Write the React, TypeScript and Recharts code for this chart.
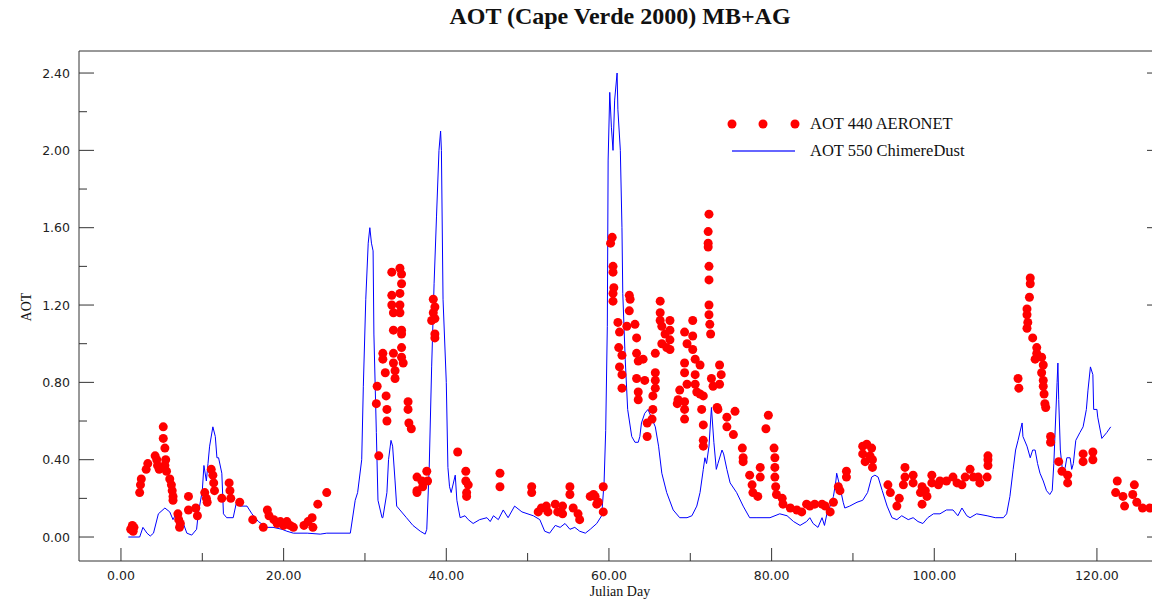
import React from 'react'
import { ComposedChart, Line, Scatter, XAxis, YAxis, Legend } from 'recharts'

// ChimereDust model AOT 550 (blue line)
const modelDay = [
  0.9, 2.3, 2.7, 3.2, 3.6, 4.0, 4.6, 5.4, 6.0, 6.4, 6.9, 7.5, 8.1, 8.7, 9.3, 9.5, 10.0, 10.2, 10.5, 10.7,
  10.9, 11.3, 11.6, 11.8, 12.0, 12.4, 12.6, 13.0, 13.8, 14.2, 14.6, 15.5, 16.1, 16.9, 17.9, 18.7, 19.8, 20.4, 21.2, 22.9,
  24.5, 25.3, 28.2, 28.8, 29.1, 29.6, 29.8, 30.1, 30.4, 30.6, 30.8, 31.0, 31.1, 31.4, 31.6, 32.1, 32.2, 32.7, 32.9, 33.2,
  33.4, 33.7, 33.9, 34.3, 35.1, 35.9, 36.8, 37.4, 37.6, 37.9, 38.2, 38.5, 38.8, 39.1, 39.3, 39.4, 39.6, 40.0, 40.2, 40.4,
  40.6, 41.1, 41.3, 41.7, 42.3, 42.7, 43.3, 44.1, 45.0, 45.4, 45.8, 46.4, 47.0, 47.6, 48.4, 49.3, 50.7, 51.5, 52.1, 52.7,
  53.4, 54.0, 54.6, 55.2, 55.8, 56.4, 57.1, 57.7, 58.5, 59.1, 59.4, 59.6, 59.8, 59.9, 60.1, 60.3, 60.5, 60.7, 61.0, 61.1,
  61.4, 61.6, 61.7, 62.0, 62.3, 62.8, 63.2, 63.6, 63.8, 64.0, 64.4, 64.8, 65.3, 65.7, 66.1, 66.5, 67.1, 67.9, 68.7, 69.6,
  70.2, 70.8, 71.2, 71.6, 71.8, 72.0, 72.3, 72.6, 72.9, 73.2, 73.4, 73.9, 74.1, 74.5, 74.9, 75.7, 76.5, 77.3, 78.2, 79.8,
  81.0, 81.9, 82.7, 83.5, 84.3, 84.7, 85.1, 85.7, 86.2, 86.5, 86.8, 87.2, 87.6, 87.9, 88.0, 88.4, 88.8, 89.0, 89.6, 90.5,
  91.2, 91.8, 92.3, 92.7, 93.1, 93.6, 94.2, 94.8, 95.4, 96.0, 96.8, 97.4, 98.0, 98.6, 99.2, 99.9, 100.7, 101.5, 102.3, 102.9,
  103.4, 104.0, 104.4, 105.2, 106.5, 107.5, 108.5, 108.9, 109.3, 109.7, 110.0, 110.3, 110.8, 110.9, 111.4, 111.8, 112.1, 112.4, 112.7, 113.0,
  113.4, 113.8, 114.2, 114.5, 114.7, 115.1, 115.2, 115.3, 115.5, 115.8, 116.1, 116.3, 116.7, 116.9, 117.1, 117.4, 117.9, 118.3, 118.7, 118.9,
  119.2, 119.5, 119.6, 120.0, 120.1, 120.6, 121.2, 121.7,
]
const modelAot = [
  0.0, 0.0, 0.05, 0.02, 0.005, 0.02, 0.12, 0.15, 0.13, 0.09, 0.13, 0.09, 0.02, 0.01, 0.04, 0.12, 0.24, 0.37, 0.29, 0.38,
  0.47, 0.57, 0.52, 0.41, 0.41, 0.33, 0.12, 0.1, 0.1, 0.18, 0.16, 0.16, 0.12, 0.08, 0.05, 0.05, 0.04, 0.03, 0.02, 0.02,
  0.015, 0.02, 0.02, 0.19, 0.23, 0.4, 0.78, 1.23, 1.52, 1.6, 1.52, 1.48, 1.05, 0.54, 0.19, 0.1, 0.1, 0.23, 0.4, 0.5,
  0.47, 0.29, 0.16, 0.14, 0.1, 0.06, 0.03, 0.015, 0.04, 0.36, 0.88, 1.31, 1.66, 2.0, 2.1, 2.0, 1.23, 0.8, 0.36, 0.26,
  0.23, 0.32, 0.19, 0.1, 0.11, 0.09, 0.07, 0.09, 0.1, 0.08, 0.11, 0.09, 0.14, 0.1, 0.16, 0.13, 0.11, 0.09, 0.03, 0.02,
  0.06, 0.05, 0.07, 0.04, 0.05, 0.03, 0.02, 0.04, 0.07, 0.11, 0.28, 0.55, 1.09, 1.95, 2.3, 2.12, 2.0, 2.26, 2.4, 2.21,
  2.0, 1.6, 1.26, 0.92, 0.66, 0.52, 0.49, 0.49, 0.52, 0.59, 0.64, 0.66, 0.61, 0.57, 0.47, 0.33, 0.23, 0.14, 0.1, 0.1,
  0.11, 0.16, 0.23, 0.35, 0.41, 0.38, 0.47, 0.67, 0.49, 0.35, 0.38, 0.45, 0.43, 0.35, 0.28, 0.23, 0.16, 0.1, 0.1, 0.1,
  0.12, 0.11, 0.08, 0.06, 0.08, 0.1, 0.07, 0.05, 0.1, 0.06, 0.12, 0.16, 0.21, 0.29, 0.33, 0.26, 0.18, 0.15, 0.16, 0.18,
  0.19, 0.23, 0.31, 0.32, 0.31, 0.24, 0.16, 0.1, 0.09, 0.11, 0.09, 0.1, 0.08, 0.07, 0.1, 0.12, 0.12, 0.14, 0.14, 0.11,
  0.15, 0.11, 0.1, 0.12, 0.11, 0.1, 0.1, 0.12, 0.21, 0.35, 0.45, 0.5, 0.59, 0.52, 0.47, 0.41, 0.45, 0.45, 0.38, 0.33,
  0.29, 0.24, 0.22, 0.24, 0.38, 0.8, 0.9, 0.71, 0.45, 0.33, 0.36, 0.41, 0.41, 0.35, 0.38, 0.5, 0.54, 0.57, 0.66, 0.76,
  0.88, 0.84, 0.66, 0.66, 0.62, 0.51, 0.54, 0.57,
]

// AERONET AOT 440 (red dots)
const obsDay = [
  1.2, 1.4, 1.5, 1.6, 2.3, 2.4, 2.5, 3.1, 3.3, 4.2, 4.4, 4.5, 4.7, 5.2, 5.2, 5.4, 5.5, 5.4, 5.6, 6.0,
  6.2, 6.3, 6.4, 6.4, 7.0, 7.1, 7.3, 7.2, 8.3, 8.3, 9.2, 9.4, 10.3, 10.5, 10.6, 11.1, 11.3, 11.4, 11.5, 12.4,
  13.3, 13.4, 13.5, 14.6, 16.2, 17.5, 18.0, 18.2, 18.8, 19.2, 19.6, 20.0, 20.4, 20.8, 21.2, 22.5, 23.0, 23.5, 23.6, 24.2,
  25.3, 31.5, 31.4, 31.7, 32.2, 32.2, 32.5, 32.6, 32.7, 32.7, 33.3, 33.3, 33.3, 33.5, 33.5, 33.5, 33.5, 33.7, 33.7, 34.3,
  34.5, 34.5, 34.3, 34.3, 34.3, 34.5, 34.5, 34.5, 34.5, 34.7, 35.3, 35.3, 35.4, 35.7, 36.4, 36.4, 36.4, 37.0, 37.1, 37.6,
  37.7, 38.2, 38.4, 38.4, 38.6, 38.6, 38.6, 38.6, 41.4, 42.4, 42.4, 42.7, 42.5, 42.5, 46.6, 46.6, 50.5, 50.5, 51.3, 51.7,
  52.3, 52.5, 53.4, 53.7, 54.3, 54.3, 55.2, 55.2, 55.6, 56.2, 56.4, 57.7, 58.1, 58.3, 58.5, 58.7, 59.3, 59.3, 60.2, 60.4,
  60.5, 60.5, 60.6, 60.5, 60.5, 61.1, 61.3, 61.2, 61.6, 61.3, 61.6, 61.6, 62.5, 62.6, 62.5, 62.2, 63.2, 63.4, 63.4, 63.6,
  63.4, 63.6, 63.6, 64.2, 64.4, 64.7, 64.7, 65.7, 65.7, 65.7, 65.7, 65.4, 65.4, 65.3, 66.3, 66.3, 66.3, 66.5, 66.9, 66.5,
  67.5, 67.5, 67.5, 67.5, 67.1, 68.7, 68.5, 68.4, 69.3, 69.6, 69.3, 69.3, 69.6, 69.3, 69.3, 69.3, 70.3, 70.3, 70.3, 70.6,
  70.6, 70.6, 70.8, 71.2, 71.2, 71.6, 71.4, 71.6, 71.6, 71.6, 72.3, 72.2, 72.2, 72.2, 72.3, 72.3, 72.3, 72.3, 72.4, 72.5,
  72.6, 72.8, 73.6, 73.8, 73.6, 73.3, 73.4, 74.5, 74.5, 75.5, 75.3, 76.4, 76.5, 76.5, 77.3, 77.6, 77.7, 78.3, 78.6, 78.6,
  79.6, 79.3, 80.3, 80.4, 80.4, 80.4, 80.5, 80.6, 81.3, 81.4, 82.3, 83.1, 83.7, 84.3, 84.7, 85.3, 86.2, 86.6, 87.2, 87.6,
  88.2, 88.4, 89.2, 89.2, 91.2, 91.7, 92.3, 91.2, 92.1, 91.5, 92.4, 92.4, 94.3, 94.6, 95.7, 95.4, 96.4, 96.4, 96.2, 97.4,
  97.4, 98.5, 98.3, 98.9, 99.1, 98.5, 99.7, 99.7, 100.5, 100.7, 101.5, 102.3, 102.8, 103.4, 103.8, 104.4, 104.8, 105.4, 105.6, 106.5,
  106.6, 106.6, 106.6, 110.3, 110.4, 111.8, 111.8, 111.7, 111.4, 111.4, 111.5, 111.4, 112.1, 112.6, 112.6, 112.4, 113.2, 113.4, 113.2, 113.4,
  113.4, 113.5, 113.6, 113.7, 114.3, 114.3, 115.3, 115.7, 116.4, 116.4, 118.3, 118.3, 119.5, 119.5, 122.3, 122.5, 123.2, 123.4, 124.4, 124.6,
  124.9, 125.6, 126.5,
]
const obsAot = [
  0.04, 0.06, 0.03, 0.05, 0.23, 0.27, 0.3, 0.35, 0.38, 0.42, 0.4, 0.37, 0.35, 0.57, 0.51, 0.46, 0.4, 0.37, 0.34, 0.3,
  0.27, 0.24, 0.21, 0.19, 0.12, 0.09, 0.07, 0.05, 0.21, 0.14, 0.15, 0.11, 0.23, 0.2, 0.18, 0.35, 0.32, 0.28, 0.24, 0.2,
  0.28, 0.24, 0.2, 0.18, 0.09, 0.05, 0.14, 0.11, 0.09, 0.07, 0.08, 0.06, 0.08, 0.06, 0.05, 0.06, 0.08, 0.1, 0.05, 0.17,
  0.23, 0.78, 0.69, 0.42, 0.95, 0.92, 0.85, 0.73, 0.66, 0.6, 1.37, 1.25, 1.2, 1.16, 1.07, 0.95, 0.9, 0.86, 0.82, 1.39,
  1.36, 1.31, 1.26, 1.2, 1.16, 1.07, 1.05, 0.98, 0.93, 0.9, 0.7, 0.66, 0.59, 0.56, 0.31, 0.24, 0.23, 0.29, 0.26, 0.34,
  0.29, 1.12, 1.23, 1.16, 1.19, 1.13, 1.05, 1.03, 0.44, 0.34, 0.29, 0.27, 0.23, 0.21, 0.33, 0.26, 0.26, 0.23, 0.13, 0.15,
  0.16, 0.13, 0.17, 0.13, 0.16, 0.12, 0.26, 0.22, 0.15, 0.12, 0.09, 0.21, 0.22, 0.21, 0.17, 0.18, 0.26, 0.13, 1.52, 1.55,
  1.4, 1.37, 1.29, 1.26, 1.22, 1.11, 1.06, 0.98, 0.94, 0.88, 0.84, 0.77, 1.25, 1.23, 1.17, 1.09, 1.1, 1.03, 0.95, 0.91,
  0.82, 0.75, 0.71, 0.92, 0.81, 0.59, 0.52, 0.95, 0.85, 0.81, 0.77, 0.73, 0.66, 0.61, 1.22, 1.16, 1.12, 1.09, 1.05, 1.0,
  1.12, 1.07, 1.02, 0.97, 0.98, 0.76, 0.71, 0.69, 1.06, 1.0, 0.9, 0.85, 0.79, 0.7, 0.66, 0.61, 1.12, 1.04, 0.97, 0.92,
  0.84, 0.79, 0.75, 0.89, 0.74, 0.73, 0.66, 0.58, 0.5, 0.47, 1.67, 1.58, 1.52, 1.5, 1.4, 1.33, 1.2, 1.15, 1.1, 1.05,
  0.82, 0.78, 0.89, 0.84, 0.79, 0.67, 0.66, 0.62, 0.57, 0.65, 0.53, 0.46, 0.41, 0.39, 0.32, 0.27, 0.23, 0.21, 0.36, 0.31,
  0.63, 0.56, 0.46, 0.41, 0.36, 0.31, 0.26, 0.22, 0.2, 0.17, 0.15, 0.14, 0.13, 0.17, 0.16, 0.17, 0.17, 0.16, 0.13, 0.18,
  0.26, 0.24, 0.34, 0.31, 0.47, 0.48, 0.46, 0.43, 0.42, 0.39, 0.4, 0.36, 0.27, 0.23, 0.2, 0.16, 0.36, 0.31, 0.27, 0.32,
  0.28, 0.26, 0.23, 0.24, 0.21, 0.17, 0.32, 0.28, 0.27, 0.29, 0.29, 0.31, 0.28, 0.27, 0.31, 0.35, 0.31, 0.31, 0.28, 0.31,
  0.42, 0.4, 0.37, 0.82, 0.77, 1.34, 1.31, 1.24, 1.18, 1.15, 1.11, 1.08, 1.03, 0.98, 0.95, 0.92, 0.93, 0.89, 0.85, 0.81,
  0.78, 0.74, 0.69, 0.67, 0.52, 0.49, 0.39, 0.34, 0.32, 0.28, 0.43, 0.39, 0.44, 0.4, 0.23, 0.29, 0.21, 0.16, 0.22, 0.27,
  0.18, 0.15, 0.15,
]

const xTicks = [0, 10, 20, 30, 40, 50, 60, 70, 80, 90, 100, 110, 120]
const yTicks = [0, 0.2, 0.4, 0.6, 0.8, 1.0, 1.2, 1.4, 1.6, 1.8, 2.0, 2.2, 2.4]

const modelData = modelDay.map((d, i) => ({ day: d, aot: modelAot[i] }))
const obsData = obsDay.map((d, i) => ({ day: d, aot: obsAot[i] }))

const xDomain = [-5.16, 128]
const yDomain = [-0.124, 2.514]
const axisColor = '#333'
const tickFont = { fontFamily: 'DejaVu Sans', fontSize: 12.5, fill: '#222' }
const serif = '"Liberation Serif", "Times New Roman", serif'

const isMajorX = (v: number) => v % 20 === 0
const isMajorY = (v: number) => Math.round(v * 10) % 4 === 0

const BottomTick = (props: any) => {
  const { x, y, payload } = props
  const major = isMajorX(payload.value)
  return (
    <g>
      <line x1={x} y1={y} x2={x} y2={y - (major ? 13 : 8)} stroke={axisColor} />
      {major && (
        <text x={x} y={y + 19} textAnchor="middle" {...tickFont}>
          {payload.value.toFixed(2)}
        </text>
      )}
    </g>
  )
}

const TopTick = (props: any) => {
  const { x, y, payload } = props
  const major = isMajorX(payload.value)
  return <line x1={x} y1={y} x2={x} y2={y + (major ? 13 : 7)} stroke={axisColor} />
}

const LeftTick = (props: any) => {
  const { x, y, payload } = props
  const major = isMajorY(payload.value)
  return (
    <g>
      <line x1={x} y1={y} x2={x + (major ? 15 : 8)} y2={y} stroke={axisColor} />
      {major && (
        <text x={x - 9} y={y + 4.5} textAnchor="end" {...tickFont}>
          {payload.value.toFixed(2)}
        </text>
      )}
    </g>
  )
}

const RightTick = (props: any) => {
  const { x, y, payload } = props
  const major = isMajorY(payload.value)
  return <line x1={x} y1={y} x2={x - (major ? 15 : 8)} y2={y} stroke={axisColor} />
}

const LegendBox = () => (
  <div style={{ fontFamily: serif, fontSize: 16.5, color: '#111', lineHeight: '27px' }}>
    <div style={{ display: 'flex', alignItems: 'center' }}>
      <svg width={85} height={20}>
        {[7, 38, 70].map((cx) => (
          <circle key={cx} cx={cx} cy={10} r={4.5} fill="#ff0000" />
        ))}
      </svg>
      <span>AOT 440 AERONET</span>
    </div>
    <div style={{ display: 'flex', alignItems: 'center' }}>
      <svg width={85} height={20}>
        <line x1={7} y1={10} x2={70} y2={10} stroke="#3333ff" strokeWidth={1.5} />
      </svg>
      <span>AOT 550 ChimereDust</span>
    </div>
  </div>
)

export default function App() {
  return (
    <div style={{ position: 'absolute', left: 0, top: 0, width: 1152, height: 599, overflow: 'hidden', background: '#fff' }}>
      <div
        style={{
          position: 'absolute', left: 0, top: 3, width: 1240, textAlign: 'center',
          fontFamily: serif, fontWeight: 'bold', fontSize: 24, color: '#111',
        }}
      >
        AOT (Cape Verde 2000) MB+AG
      </div>
      <div
        style={{
          position: 'absolute', left: 27, top: 307, transform: 'translate(-50%, -50%) rotate(-90deg)',
          fontFamily: serif, fontSize: 14, color: '#111', whiteSpace: 'nowrap',
        }}
      >
        AOT
      </div>
      <div
        style={{
          position: 'absolute', left: 0, top: 585, width: 1240, textAlign: 'center',
          fontFamily: serif, fontSize: 14, lineHeight: '14px', color: '#111',
        }}
      >
        Julian Day
      </div>
      <ComposedChart width={1170} height={599} margin={{ top: 50, right: 7, bottom: 37, left: 78 }}>
        <XAxis
          xAxisId="b" dataKey="day" type="number" domain={xDomain} ticks={xTicks} interval={0}
          allowDataOverflow height={1} tickSize={0} tickMargin={0} tickLine={false}
          tick={<BottomTick />} stroke={axisColor}
        />
        <XAxis
          xAxisId="t" orientation="top" type="number" domain={xDomain} ticks={xTicks} interval={0}
          allowDataOverflow height={1} tickSize={0} tickMargin={0} tickLine={false}
          tick={<TopTick />} stroke={axisColor}
        />
        <YAxis
          yAxisId="l" dataKey="aot" type="number" domain={yDomain} ticks={yTicks} interval={0}
          allowDataOverflow width={1} tickSize={0} tickMargin={0} tickLine={false}
          tick={<LeftTick />} stroke={axisColor}
        />
        <YAxis
          yAxisId="r" orientation="right" type="number" domain={yDomain} ticks={yTicks} interval={0}
          allowDataOverflow width={1} tickSize={0} tickMargin={0} tickLine={false}
          tick={<RightTick />} stroke={axisColor}
        />
        <Legend
          layout="vertical" align="center" verticalAlign="middle"
          content={<LegendBox />}
          wrapperStyle={{ position: 'absolute', left: 725, top: 110, width: 300, bottom: 'auto' }}
        />
        <Line
          xAxisId="b" yAxisId="l" data={modelData} dataKey="aot" type="linear"
          stroke="#0000ff" strokeWidth={1} dot={false} isAnimationActive={false}
        />
        <Scatter
          xAxisId="b" yAxisId="l" data={obsData} dataKey="aot" fill="#ff0000"
          shape={(p: any) => <circle cx={p.cx} cy={p.cy} r={4.5} fill="#ff0000" />}
          isAnimationActive={false}
        />
      </ComposedChart>
    </div>
  )
}
